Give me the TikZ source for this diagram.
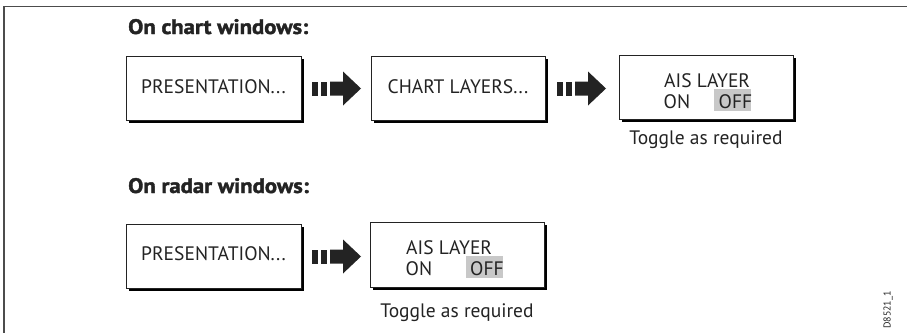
\documentclass[tikz,border=0pt]{standalone}
\usepackage{fontspec}
\setmainfont{PT Sans}
\newfontfamily\headfont{PT Sans}[FakeBold=1.8, FakeStretch=1.08]
\usetikzlibrary{shadows}
\definecolor{hl}{RGB}{200,200,200}
\definecolor{ink}{RGB}{35,35,35}
\tikzset{
  btn/.style={draw=ink, line width=1pt, fill=white, inner sep=0pt,
    drop shadow={shadow xshift=2.6pt, shadow yshift=-3pt, fill=black, opacity=1}},
  lbl/.style={inner sep=0pt, anchor=base, text=ink, font=\fontsize{19.5}{22}\selectfont},
  head/.style={inner sep=0pt, anchor=base west, text=ink, font=\headfont\bfseries\fontsize{21}{24}\selectfont},
  frame/.style={draw=black!70, line width=1.6pt},
  flowarrow/.pic={
    \fill[ink] (0,-7) rectangle (5.5,7);
    \fill[ink] (8.5,-7) rectangle (15,7);
    \fill[ink] (18,-7) -- (31,-7) -- (31,-17) -- (49,0) -- (31,17) -- (31,7) -- (18,7) -- cycle;
  }
}
\begin{document}
\begin{tikzpicture}[x=1pt,y=-1pt]
\useasboundingbox (0,0) rectangle (907,332);
\draw[frame] (4,340) -- (4,6.5) -- (912,6.5);

% chart windows
\node[head] (h1) at (128,34) {On chart windows:};
\node[btn, minimum width=175pt, minimum height=64pt] (c1) at (213.5,88) {};
\node[btn, minimum width=174pt, minimum height=64pt] (c2) at (458,88) {};
\node[btn, minimum width=174pt, minimum height=64pt] (c3) at (706,87) {};
\node[lbl] (c1t) at (213.5,93) {PRESENTATION...};
\node[lbl] (c2t) at (458,93) {CHART LAYERS...};
\fill[hl] (714,89) rectangle (751,111);
\node[lbl, anchor=base west] (c3a) at (664,87.5) {AIS LAYER};
\node[lbl, anchor=base west] (c3b) at (663.5,108.5) {ON};
\node[lbl, anchor=base west] (c3c) at (718.5,108.5) {OFF};
\node[lbl] (c3d) at (706,144.3) {Toggle as required};
\pic at (312,88.5) {flowarrow};
\pic at (557,88.5) {flowarrow};

% radar windows
\node[head] (h2) at (128,193) {On radar windows:};
\node[btn, minimum width=175pt, minimum height=64pt] (r1) at (213.5,256) {};
\node[btn, minimum width=174pt, minimum height=65pt] (r2) at (457,254.5) {};
\node[lbl] (r1t) at (213.5,260.5) {PRESENTATION...};
\fill[hl] (466,256) rectangle (503,277.5);
\node[lbl, anchor=base west] (r2a) at (406,254.5) {AIS LAYER};
\node[lbl, anchor=base west] (r2b) at (405.5,275.5) {ON};
\node[lbl, anchor=base west] (r2c) at (470,275.5) {OFF};
\node[lbl] (r2d) at (457,317.3) {Toggle as required};
\pic at (312,256.5) {flowarrow};

\node[inner sep=0pt, rotate=90, text=ink, font=\fontsize{10}{11}\selectfont] (id) at (888,310) {D8521\_1};
\end{tikzpicture}
\end{document}
